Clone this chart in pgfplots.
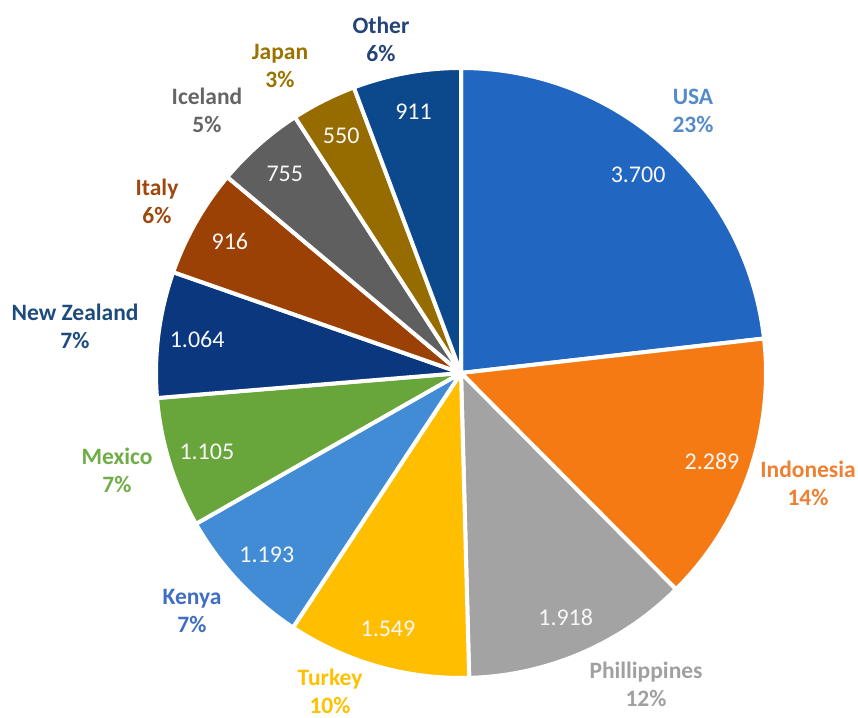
\documentclass[border=0pt]{standalone}
\usepackage{pgfplots}
\pgfplotsset{compat=1.18}
\usepackage{pgfplotstable}
\usepackage{fontspec}
\setmainfont{Carlito}

% slice fills
\definecolor{pie0}{RGB}{33,102,193}
\definecolor{pie1}{RGB}{245,122,20}
\definecolor{pie2}{RGB}{163,163,163}
\definecolor{pie3}{RGB}{255,190,0}
\definecolor{pie4}{RGB}{66,140,214}
\definecolor{pie5}{RGB}{104,166,60}
\definecolor{pie6}{RGB}{10,55,125}
\definecolor{pie7}{RGB}{155,65,5}
\definecolor{pie8}{RGB}{95,95,95}
\definecolor{pie9}{RGB}{150,108,0}
\definecolor{pie10}{RGB}{12,72,140}
% outer label colours
\definecolor{lblusa}{RGB}{85,140,200}
\definecolor{lblind}{RGB}{238,128,50}
\definecolor{lblphi}{RGB}{160,160,160}
\definecolor{lbltur}{RGB}{255,192,0}
\definecolor{lblken}{RGB}{65,110,195}
\definecolor{lblmex}{RGB}{112,173,71}
\definecolor{lblnz}{RGB}{30,75,125}
\definecolor{lblita}{RGB}{158,72,14}
\definecolor{lblice}{RGB}{101,101,101}
\definecolor{lbljap}{RGB}{155,115,0}
\definecolor{lbloth}{RGB}{36,68,120}

\pgfplotstableread{
idx value label
0  3700 3.700
1  2289 2.289
2  1918 1.918
3  1549 1.549
4  1193 1.193
5  1105 1.105
6  1064 1.064
7  916  916
8  755  755
9  550  550
10 911  911
}\pietable

\begin{document}
\begin{tikzpicture}
% cumulative angles, clockwise from the top
\def\pietotal{0}
\pgfplotsforeachungrouped \i in {0,...,10}{%
  \pgfplotstablegetelem{\i}{value}\of\pietable
  \pgfmathsetmacro\pietotal{\pietotal+\pgfplotsretval}%
}
\def\piecum{0}
\pgfplotsforeachungrouped \i in {0,...,10}{%
  \pgfplotstablegetelem{\i}{value}\of\pietable
  \pgfmathsetmacro\pa{90-360*(\piecum/\pietotal)}%
  \pgfmathsetmacro\piecum{\piecum+\pgfplotsretval}%
  \pgfmathsetmacro\pb{90-360*(\piecum/\pietotal)}%
  \pgfmathsetmacro\pm{(\pa+\pb)/2}%
  \pgfplotstablegetelem{\i}{label}\of\pietable
  \expandafter\xdef\csname pieA\i\endcsname{\pa}%
  \expandafter\xdef\csname pieB\i\endcsname{\pb}%
  \expandafter\xdef\csname pieM\i\endcsname{\pm}%
  \expandafter\xdef\csname pieL\i\endcsname{\pgfplotsretval}%
}
\begin{axis}[
    width=858bp, height=718bp,
    scale only axis,
    xmin=0, xmax=858, ymin=0, ymax=718,
    hide axis,
    clip=false,
]
\pgfplotsinvokeforeach{0,...,10}{
  \fill[fill=pie#1, draw=white, line width=4bp, line join=round]
    (axis cs:461,345) -- ++(\csname pieA#1\endcsname:305bp)
    arc[start angle=\csname pieA#1\endcsname, end angle=\csname pieB#1\endcsname, radius=305bp]
    -- cycle;
  \path (axis cs:461,345) ++(\csname pieM#1\endcsname:266bp)
    node[text=white!94!gray, inner sep=0pt, font=\fontsize{24bp}{28bp}\selectfont] {\csname pieL#1\endcsname};
}
\tikzset{lbl/.style={align=center, inner sep=0pt, font=\bfseries\fontsize{23.5bp}{28bp}\selectfont}}
\node[lbl, text=lblusa] at (axis cs:693,607)   {USA\\23\%};
\node[lbl, text=lblind] at (axis cs:808,234.5) {Indonesia\\14\%};
\node[lbl, text=lblphi] at (axis cs:646,34)    {Phillippines\\12\%};
\node[lbl, text=lbltur] at (axis cs:330,27)    {Turkey\\10\%};
\node[lbl, text=lblken] at (axis cs:192,107.5) {Kenya\\7\%};
\node[lbl, text=lblmex] at (axis cs:117,248)   {Mexico\\7\%};
\node[lbl, text=lblnz]  at (axis cs:75,391.5)  {New Zealand\\7\%};
\node[lbl, text=lblita] at (axis cs:157,516.5) {Italy\\6\%};
\node[lbl, text=lblice] at (axis cs:207,608)   {Iceland\\5\%};
\node[lbl, text=lbljap] at (axis cs:280,652)   {Japan\\3\%};
\node[lbl, text=lbloth] at (axis cs:381,679)   {Other\\6\%};
\end{axis}
\pgfresetboundingbox
\useasboundingbox (0,0) rectangle (858bp,718bp);
\end{tikzpicture}
\end{document}
